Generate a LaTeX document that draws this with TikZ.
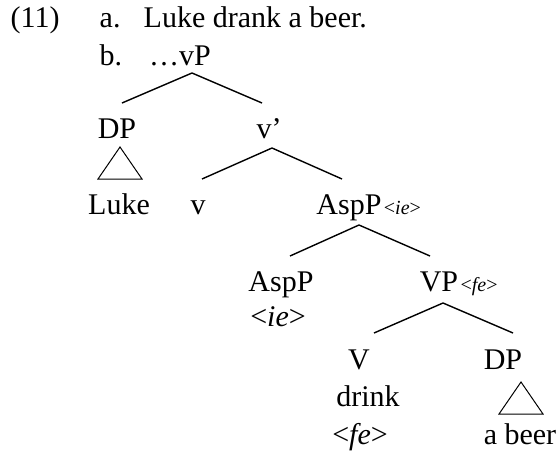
\documentclass[tikz,border=0pt]{standalone}
\usepackage{fontspec}
\setmainfont{Liberation Serif}
\usetikzlibrary{positioning}
\newcommand{\featr}[1]{\textless\textit{#1}\textgreater}
\tikzset{feat/.style={font=\fontsize{20}{24}\selectfont}}

\begin{document}
\begin{tikzpicture}[x=1pt,y=-1pt,line width=1.4pt,every node/.style={inner sep=0pt,anchor=base,font=\fontsize{30}{36}\selectfont}]
  \useasboundingbox (0,0) rectangle (559,456);
  % example lines
  \node (ex) at (10,27) [anchor=base west] {(11)};
  \node (la) at (99,27) [anchor=base west] {a.};
  \node (sa) at (143,27) [anchor=base west] {Luke drank a beer.};
  \node (lb) at (99,65) [anchor=base west] {b.};
  % tree
  \node (vP) at (180,65) {…vP};
  \node (dpl) at (117,138) {DP};
  \node (vbar) at (269,138) {v’};
  \node (luke) [below right=76pt and 2pt of dpl.base,anchor=base] {Luke};
  \node (vh) at (198,214) {v};
  \node (asp1) at (349,214) {AspP};
  \node (asp1f) [feat,right=1pt of asp1.base east,anchor=base west] {\featr{ie}};
  \node (asp2) at (281,291) {AspP};
  \node (ie) [below left=35pt and 3pt of asp2.base,anchor=base] {\featr{ie}};
  \node (vp) at (439,291) {VP};
  \node (vpf) [feat,right=1pt of vp.base east,anchor=base west] {\featr{fe}};
  \node (vh2) at (359,369) {V};
  \node (drink) [below right=37pt and 9pt of vh2.base,anchor=base] {drink};
  \node (fe) [below left=38pt and 8pt of drink.base,anchor=base] {\featr{fe}};
  \node (dpr) at (503,369) {DP};
  \node (beer) [below right=75pt and 17pt of dpr.base,anchor=base] {a beer};
  % branches
  \draw ([shift={(12,8)}]vP.base) -- ([shift={(5,-35)}]dpl.base);
  \draw ([shift={(12,8)}]vP.base) -- ([shift={(-7,-35)}]vbar.base);
  \draw ([shift={(3,10)}]vbar.base) -- ([shift={(4,-35)}]vh.base);
  \draw ([shift={(3,10)}]vbar.base) -- ([shift={(-7,-35)}]asp1.base);
  \draw ([shift={(10,11)}]asp1.base) -- ([shift={(9,-35)}]asp2.base);
  \draw ([shift={(10,11)}]asp1.base) -- ([shift={(-9,-35)}]vp.base);
  \draw ([shift={(4,12)}]vp.base) -- ([shift={(15,-36)}]vh2.base);
  \draw ([shift={(4,12)}]vp.base) -- ([shift={(10,-36)}]dpr.base);
  % triangles
  \draw[line width=1pt] ([shift={(3,9)}]dpl.base) -- ++(-22,32) -- ++(44,0) -- cycle;
  \draw[line width=1pt] ([shift={(18,13)}]dpr.base) -- ++(-22,32) -- ++(44,0) -- cycle;
\end{tikzpicture}
\end{document}
